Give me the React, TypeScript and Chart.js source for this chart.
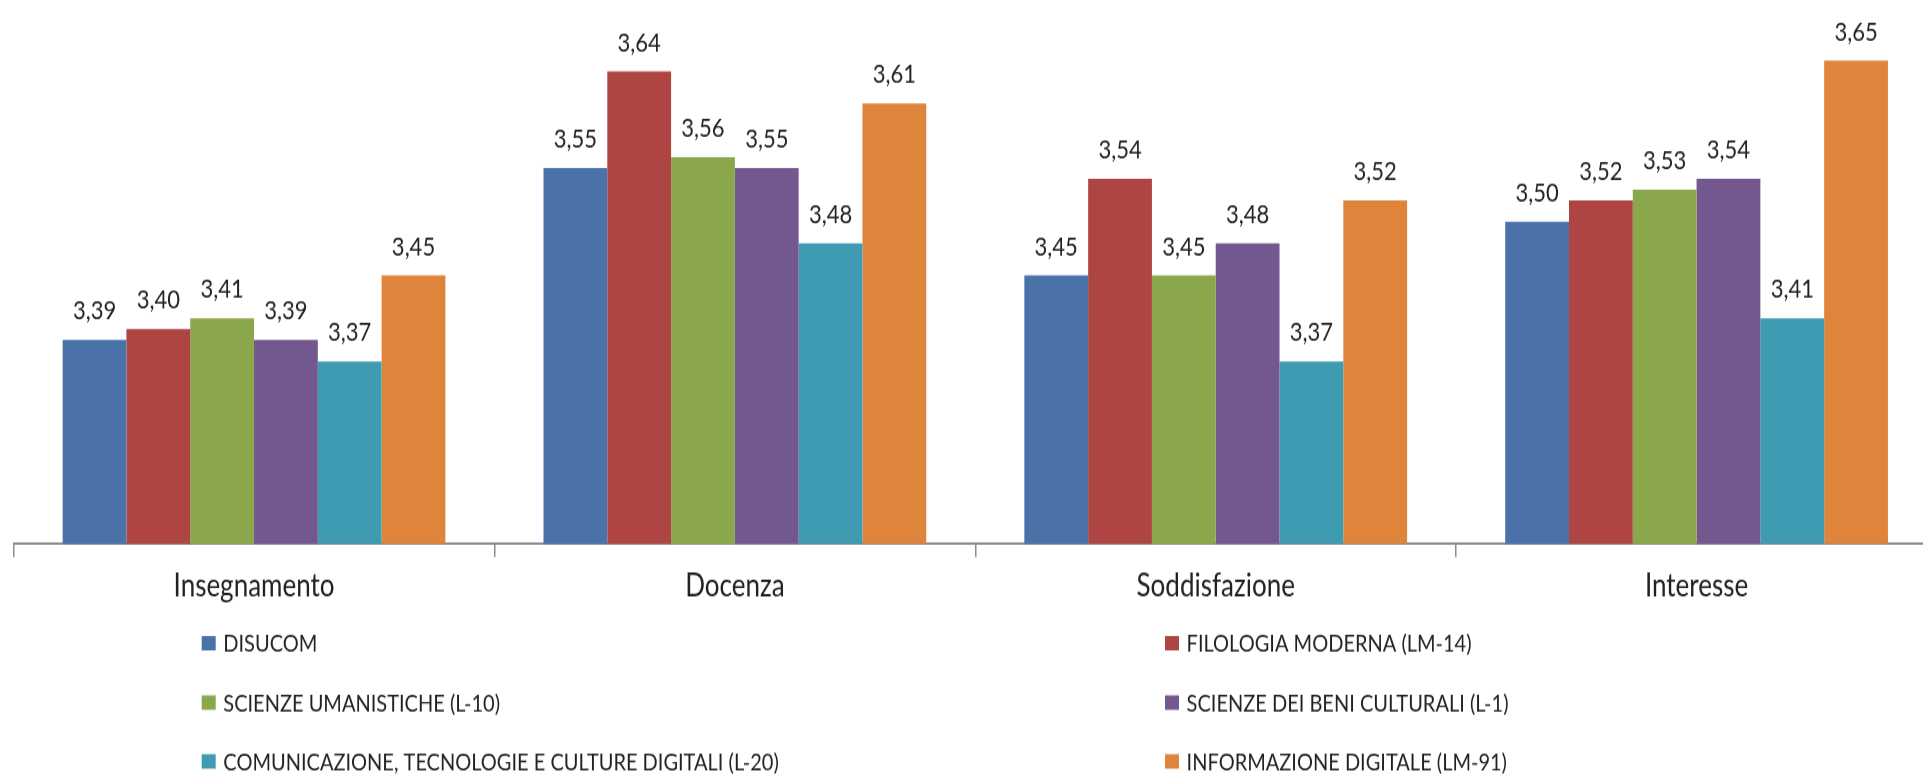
import React, { useEffect, useRef } from 'react';
import { Chart, registerables } from 'chart.js';

Chart.register(...registerables);

const categories = ['Insegnamento', 'Docenza', 'Soddisfazione', 'Interesse'];

const seriesNames = [
  'DISUCOM',
  'FILOLOGIA MODERNA (LM-14)',
  'SCIENZE UMANISTICHE (L-10)',
  'SCIENZE DEI BENI CULTURALI (L-1)',
  'COMUNICAZIONE, TECNOLOGIE E CULTURE DIGITALI (L-20)',
  'INFORMAZIONE DIGITALE (LM-91)',
];

const disucom = [3.39, 3.55, 3.45, 3.5];
const filologiaModerna = [3.4, 3.64, 3.54, 3.52];
const scienzeUmanistiche = [3.41, 3.56, 3.45, 3.53];
const beniCulturali = [3.39, 3.55, 3.48, 3.54];
const comunicazione = [3.37, 3.48, 3.37, 3.41];
const informazioneDigitale = [3.45, 3.61, 3.52, 3.65];

const seriesValues = [disucom, filologiaModerna, scienzeUmanistiche, beniCulturali, comunicazione, informazioneDigitale];

const seriesColors = ['#4A71A8', '#AE4543', '#8BA74C', '#73578F', '#3F9BB1', '#DE843B'];

const yMin = 3.2;
const yMax = 3.7;

// layout (canvas units; the canvas is stretched vertically by CSS like the reference)
const CANVAS_W = 1937;
const CANVAS_H = 645;
const PLOT_BOTTOM = 453.3;
const FONT = 'Lato, "Open Sans", sans-serif';

const valueLabelPlugin = {
  id: 'valueLabels',
  afterDatasetsDraw(chart: any) {
    const ctx = chart.ctx;
    ctx.save();
    ctx.font = `22px ${FONT}`;
    ctx.fillStyle = '#222222';
    ctx.textAlign = 'center';
    ctx.textBaseline = 'alphabetic';
    chart.data.datasets.forEach((ds: any, i: number) => {
      const meta = chart.getDatasetMeta(i);
      meta.data.forEach((bar: any, j: number) => {
        const v = ds.data[j] as number;
        ctx.fillText(v.toFixed(2).replace('.', ','), bar.x, bar.y - 17);
      });
    });
    ctx.restore();
  },
};

const legendPlugin = {
  id: 'twoColLegend',
  afterDraw(chart: any) {
    const ctx = chart.ctx;
    const colX = [201.7, 1165];
    const rowY = [536, 585.5, 634.5];
    ctx.save();
    ctx.font = `20px ${FONT}`;
    ctx.textAlign = 'left';
    ctx.textBaseline = 'alphabetic';
    chart.data.datasets.forEach((ds: any, i: number) => {
      const x = colX[i % 2];
      const y = rowY[Math.floor(i / 2)];
      ctx.fillStyle = ds.backgroundColor;
      ctx.fillRect(x, y - 6, 14, 12);
      ctx.fillStyle = '#222222';
      ctx.fillText(ds.label, x + 21.6, y + 7.1);
    });
    ctx.restore();
  },
};

export default function App() {
  const canvasRef = useRef<HTMLCanvasElement | null>(null);

  useEffect(() => {
    let chart: Chart | null = null;
    let cancelled = false;
    const make = () => {
      if (cancelled || !canvasRef.current) return;
      chart = new Chart(canvasRef.current, {
        type: 'bar',
        data: {
          labels: categories,
          datasets: seriesNames.map((name, i) => ({
            label: name,
            data: seriesValues[i],
            backgroundColor: seriesColors[i],
            borderWidth: 0,
            categoryPercentage: 0.796,
            barPercentage: 1,
          })),
        },
        options: {
          responsive: false,
          animation: false,
          devicePixelRatio: 1,
          layout: { padding: { left: 13.6, right: 0, top: 5.8, bottom: 0 } },
          plugins: { legend: { display: false }, tooltip: { enabled: false } },
          scales: {
            x: {
              grid: {
                display: true,
                drawOnChartArea: false,
                drawTicks: true,
                tickLength: 11,
                color: '#8c8c8c',
                lineWidth: 1.5,
                offset: true,
              },
              border: { display: true, color: '#8c8c8c', width: 2 },
              ticks: {
                font: { family: FONT, size: 26 },
                color: '#222222',
                padding: 9,
                maxRotation: 0,
                autoSkip: false,
              },
              afterFit: (s: any) => {
                s.height = CANVAS_H - PLOT_BOTTOM;
              },
            },
            y: { display: false, min: yMin, max: yMax },
          },
        } as any,
        plugins: [valueLabelPlugin, legendPlugin],
      });
    };
    const fontsReady = (document as any).fonts
      ? Promise.all([
          (document as any).fonts.load(`26px Lato`),
          (document as any).fonts.load(`20px Lato`),
        ]).catch(() => null)
      : Promise.resolve(null);
    fontsReady.then(make);
    return () => {
      cancelled = true;
      if (chart) chart.destroy();
    };
  }, []);

  return (
    <div
      style={{
        position: 'fixed',
        left: 0,
        top: 0,
        width: 1923,
        height: 774,
        overflow: 'hidden',
        background: '#ffffff',
      }}
    >
      <canvas
        ref={canvasRef}
        width={CANVAS_W}
        height={CANVAS_H}
        style={{ display: 'block', width: `${CANVAS_W}px`, height: '774px' }}
      />
    </div>
  );
}
